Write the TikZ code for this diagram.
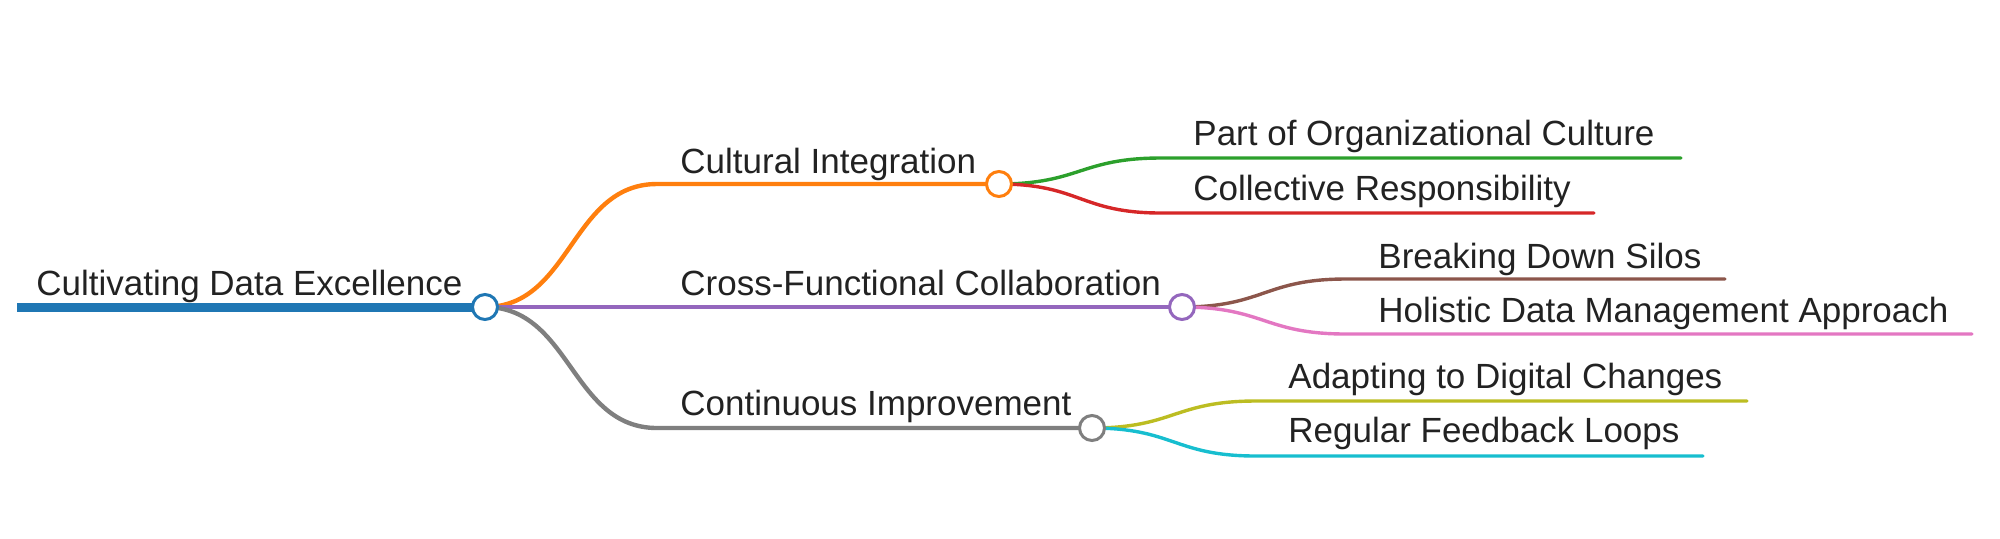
\documentclass[tikz,border=0pt]{standalone}
\usepackage{fontspec}
\setmainfont{Liberation Sans}
\usetikzlibrary{backgrounds}
\definecolor{MapBlue}{HTML}{1F77B4}
\definecolor{MapOrange}{HTML}{FF7F0E}
\definecolor{MapGreen}{HTML}{2CA02C}
\definecolor{MapRed}{HTML}{D62728}
\definecolor{MapPurple}{HTML}{9467BD}
\definecolor{MapBrown}{HTML}{8C564B}
\definecolor{MapPink}{HTML}{E377C2}
\definecolor{MapGray}{HTML}{7F7F7F}
\definecolor{MapOlive}{HTML}{BCBD22}
\definecolor{MapCyan}{HTML}{17BECF}
\definecolor{MapText}{HTML}{222222}
\tikzset{
  mapdot/.style={circle,draw=#1,fill=white,line width=1.5pt,
    minimum size=12.5pt,inner sep=0pt},
  maplink/.style={draw=#1,line width=2.2pt,line cap=round},
  mapleaf/.style={draw=#1,line width=1.7pt,line cap=round},
  maplabel/.style={anchor=base west,text=MapText,inner sep=0pt,
    font=\fontsize{17.5}{21}\selectfont}
}

\begin{document}
\begin{tikzpicture}[x=0.5pt,y=-0.5pt]

        \useasboundingbox (0,0) rectangle (2000,538);

        % junction circles
        \node[mapdot=MapBlue] (root) at (485,307) {};
        \node[mapdot=MapOrange] (cult) at (999,184) {};
        \node[mapdot=MapPurple] (cross) at (1182,307) {};
        \node[mapdot=MapGray] (cont) at (1092,428) {};

        % line ends
        \coordinate (root-s) at (17,307);
        \coordinate (cult-s) at (657,184);
        \coordinate (cont-s) at (657,428);
        \coordinate (part-s) at (1161,158);
        \coordinate (part-e) at (1681,158);
        \coordinate (coll-s) at (1161,213);
        \coordinate (coll-e) at (1594,213);
        \coordinate (silo-s) at (1346,279);
        \coordinate (silo-e) at (1725,279);
        \coordinate (holi-s) at (1346,334);
        \coordinate (holi-e) at (1972,334);
        \coordinate (adap-s) at (1256,401);
        \coordinate (adap-e) at (1747,401);
        \coordinate (feed-s) at (1256,456);
        \coordinate (feed-e) at (1703,456);

        \begin{scope}[on background layer]
          \draw[MapBlue,line width=4.5pt] (root-s) -- (root.center);

          \draw[maplink=MapOrange] (root.center)
            .. controls +(86,0) and +(-86,0) .. (cult-s) -- (cult.center);
          \draw[maplink=MapPurple] (root.center) -- (cross.center);
          \draw[maplink=MapGray] (root.center)
            .. controls +(86,0) and +(-86,0) .. (cont-s) -- (cont.center);

          \draw[mapleaf=MapGreen] (cult.center)
            .. controls +(81,0) and +(-81,0) .. (part-s) -- (part-e);
          \draw[mapleaf=MapRed] (cult.center)
            .. controls +(81,0) and +(-81,0) .. (coll-s) -- (coll-e);
          \draw[mapleaf=MapBrown] (cross.center)
            .. controls +(82,0) and +(-82,0) .. (silo-s) -- (silo-e);
          \draw[mapleaf=MapPink] (cross.center)
            .. controls +(82,0) and +(-82,0) .. (holi-s) -- (holi-e);
          \draw[mapleaf=MapOlive] (cont.center)
            .. controls +(82,0) and +(-82,0) .. (adap-s) -- (adap-e);
          \draw[mapleaf=MapCyan] (cont.center)
            .. controls +(82,0) and +(-82,0) .. (feed-s) -- (feed-e);
        \end{scope}

        % labels
        \node[maplabel] (root-t) at (36,295) {Cultivating Data Excellence};
        \node[maplabel] (cult-t) at (680,173) {Cultural Integration};
        \node[maplabel] (cross-t) at (680,295) {Cross-Functional Collaboration};
        \node[maplabel] (cont-t) at (680,415) {Continuous Improvement};
        \node[maplabel] (part-t) at (1193,145) {Part of Organizational Culture};
        \node[maplabel] (coll-t) at (1193,200) {Collective Responsibility};
        \node[maplabel] (silo-t) at (1378,268) {Breaking Down Silos};
        \node[maplabel] (holi-t) at (1378,322) {Holistic Data Management Approach};
        \node[maplabel] (adap-t) at (1288,388) {Adapting to Digital Changes};
        \node[maplabel] (feed-t) at (1288,442) {Regular Feedback Loops};

      \end{tikzpicture}
\end{document}
